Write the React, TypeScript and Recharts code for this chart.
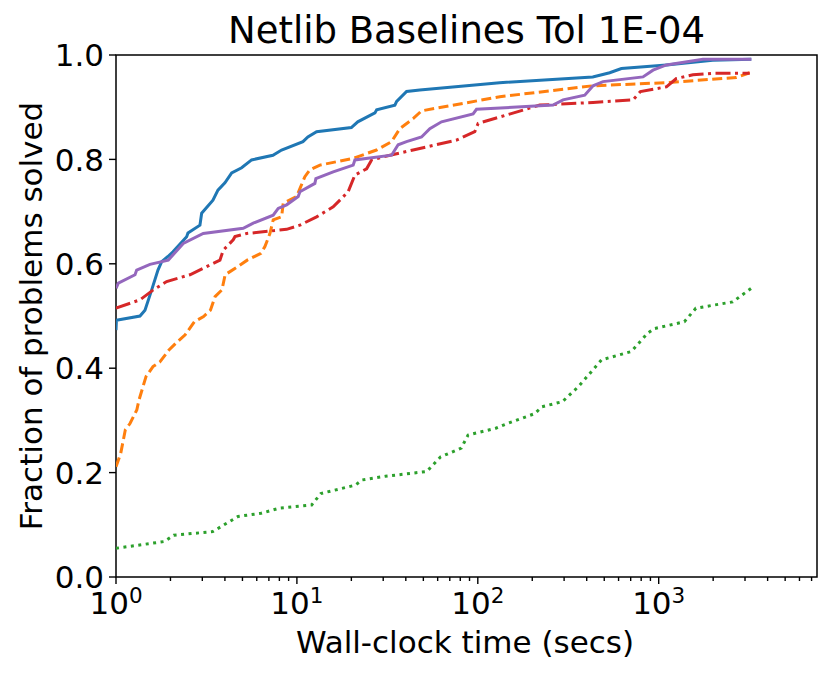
import React from "react";
import { LineChart, Line, XAxis, YAxis, ReferenceArea } from "recharts";

// ---- data ----
const blueX = [1, 1.005, 1.357, 1.446, 1.575, 1.706, 1.789, 1.937, 2.065, 2.458, 2.499, 2.911, 2.975, 3.435, 3.66, 4.0, 4.36, 4.95, 5.62, 7.37, 8.23, 10.8, 11.5, 12.85, 20.0, 21.7, 27.0, 27.6, 34.8, 35.6, 40.4, 47.8, 132, 432, 536, 622, 1104, 1987, 3251];
const blueY = [0.473, 0.492, 0.5, 0.511, 0.55, 0.588, 0.604, 0.614, 0.623, 0.652, 0.659, 0.674, 0.697, 0.722, 0.741, 0.755, 0.774, 0.784, 0.799, 0.808, 0.818, 0.834, 0.843, 0.853, 0.861, 0.872, 0.889, 0.895, 0.904, 0.911, 0.93, 0.933, 0.947, 0.958, 0.966, 0.974, 0.981, 0.99, 0.992];

const orangeX = [1, 1.062, 1.126, 1.195, 1.303, 1.34, 1.465, 1.601, 1.748, 1.963, 2.145, 2.412, 2.711, 3.048, 3.327, 3.528, 3.852, 4.012, 4.72, 5.313, 6.326, 6.656, 7.093, 7.396, 8.233, 8.402, 9.96, 10.39, 11.07, 11.8, 13.4, 20.47, 27.56, 33.37, 37.07, 43.9, 48.87, 132.3, 431.5, 1103, 2686, 3183];
const orangeY = [0.211, 0.237, 0.282, 0.294, 0.32, 0.339, 0.384, 0.403, 0.412, 0.435, 0.448, 0.464, 0.489, 0.499, 0.511, 0.537, 0.55, 0.579, 0.595, 0.607, 0.62, 0.633, 0.658, 0.684, 0.69, 0.716, 0.729, 0.744, 0.767, 0.78, 0.789, 0.802, 0.818, 0.834, 0.859, 0.878, 0.893, 0.92, 0.941, 0.947, 0.957, 0.966];

const greenX = [1, 1.853, 2.084, 3.426, 4.727, 6.334, 8.015, 12.07, 13.57, 21.05, 22.98, 30.83, 52.2, 62.2, 80.97, 88.4, 125.7, 145.5, 206.5, 225.7, 293.8, 360.6, 483.1, 706.3, 868.4, 948, 1387, 1605, 2564, 3243];
const greenY = [0.055, 0.068, 0.08, 0.087, 0.116, 0.122, 0.132, 0.138, 0.16, 0.176, 0.186, 0.193, 0.202, 0.23, 0.247, 0.272, 0.285, 0.294, 0.313, 0.326, 0.336, 0.365, 0.416, 0.432, 0.467, 0.476, 0.489, 0.515, 0.527, 0.553];

const redX = [1, 1.357, 1.607, 1.906, 2.563, 3.755, 3.915, 4.446, 4.545, 5.274, 8.772, 10.39, 12.85, 15.87, 19.2, 20.92, 24.28, 25.87, 32.65, 43.9, 76.27, 96.25, 100.4, 220, 433.6, 721, 792.4, 1103, 1253, 1547, 1995, 3183];
const redY = [0.515, 0.531, 0.55, 0.566, 0.579, 0.607, 0.626, 0.646, 0.652, 0.658, 0.666, 0.674, 0.69, 0.709, 0.738, 0.77, 0.782, 0.799, 0.808, 0.818, 0.837, 0.853, 0.869, 0.904, 0.909, 0.914, 0.93, 0.939, 0.955, 0.962, 0.965, 0.965];

const purpleX = [1, 1.03, 1.274, 1.301, 1.541, 1.945, 2.354, 3.036, 5.05, 5.737, 7.396, 7.883, 8.772, 10.17, 10.39, 12.57, 12.73, 15.87, 20.47, 20.92, 33.37, 36.28, 40.37, 48.87, 54.3, 63.03, 94.2, 98.35, 260.6, 296, 390.1, 433.6, 492.4, 819, 930, 1103, 1757, 3251];
const purpleY = [0.553, 0.563, 0.579, 0.588, 0.599, 0.607, 0.639, 0.658, 0.668, 0.678, 0.693, 0.706, 0.713, 0.729, 0.738, 0.754, 0.763, 0.776, 0.789, 0.799, 0.808, 0.828, 0.834, 0.843, 0.859, 0.872, 0.887, 0.896, 0.904, 0.914, 0.923, 0.941, 0.949, 0.958, 0.971, 0.981, 0.992, 0.992];

const xMajorTicks = [1, 10, 100, 1000];
const xMinorTicks = [2, 3, 4, 5, 6, 7, 8, 9, 20, 30, 40, 50, 60, 70, 80, 90, 200, 300, 400, 500, 600, 700, 800, 900, 2000, 3000, 4000, 5000, 6000, 7000];
const yTicks = [0, 0.2, 0.4, 0.6, 0.8, 1.0];
const xDomain = [1, 7500];

const titleText = "Netlib Baselines Tol 1E-04";
const xLabelText = "Wall-clock time (secs)";
const yLabelText = "Fraction of problems solved";

// ---- helpers ----
const toPoints = (xs: number[], ys: number[]) => xs.map((x, i) => ({ x, y: ys[i] }));
const allXTicks = [...xMajorTicks, ...xMinorTicks].sort((a, b) => a - b);

const FONT = "DejaVu Sans";
const W = 815;
const H = 659;

const XTick = (props: any) => {
  const { x, y, payload } = props;
  const v = payload.value;
  const major = xMajorTicks.includes(v);
  const exp = Math.round(Math.log10(v));
  return (
    <g>
      <line x1={x} y1={y} x2={x} y2={y + (major ? 7 : 4)} stroke="#000" strokeWidth={1.4} />
      {major && (
        <text x={x} y={y + 37} textAnchor="middle" fontSize={31} fontFamily={FONT} fill="#000">
          <tspan>10</tspan>
          <tspan dy={-11} fontSize={21.5}>{exp}</tspan>
        </text>
      )}
    </g>
  );
};

const YTick = (props: any) => {
  const { x, y, payload } = props;
  return (
    <g>
      <line x1={x - 7} y1={y} x2={x} y2={y} stroke="#000" strokeWidth={1.4} />
      <text x={x - 12} y={y} dy="0.36em" textAnchor="end" fontSize={31} fontFamily={FONT} fill="#000">
        {Number(payload.value).toFixed(1)}
      </text>
    </g>
  );
};

const series = [
  { name: "blue", xs: blueX, ys: blueY, color: "#1f77b4", dash: undefined },
  { name: "orange", xs: orangeX, ys: orangeY, color: "#ff7f0e", dash: "10 4.5" },
  { name: "green", xs: greenX, ys: greenY, color: "#2ca02c", dash: "3 4.5" },
  { name: "red", xs: redX, ys: redY, color: "#d62728", dash: "15 4.5 3 4.5" },
  { name: "purple", xs: purpleX, ys: purpleY, color: "#9467bd", dash: undefined },
];

export default function App() {
  return (
    <div style={{ position: "relative", width: W, height: H }}>
      <LineChart width={W} height={H} margin={{ top: 47, right: 6, bottom: 0, left: 0 }}>
        <XAxis
          dataKey="x"
          type="number"
          scale="log"
          domain={xDomain}
          allowDataOverflow
          ticks={allXTicks}
          interval={0}
          tick={XTick}
          tickLine={false}
          axisLine={false}
          tickSize={0}
          tickMargin={0}
          height={90}
        />
        <YAxis
          type="number"
          domain={[0, 1]}
          ticks={yTicks}
          interval={0}
          tick={YTick}
          tickLine={false}
          axisLine={false}
          tickSize={0}
          tickMargin={0}
          width={108}
        />
        {series.map((s) => (
          <Line
            key={s.name}
            data={toPoints(s.xs, s.ys)}
            dataKey="y"
            type="linear"
            stroke={s.color}
            strokeWidth={3}
            strokeDasharray={s.dash}
            dot={false}
            activeDot={false}
            isAnimationActive={false}
          />
        ))}
        <ReferenceArea
          x1={xDomain[0]}
          x2={xDomain[1]}
          y1={0}
          y2={1}
          fill="none"
          fillOpacity={0}
          stroke="#000"
          strokeWidth={1.5}
          ifOverflow="visible"
        />
      </LineChart>
      <svg
        width={W}
        height={H}
        style={{ position: "absolute", left: 0, top: 0, pointerEvents: "none" }}
      >
        <text x={458.5} y={35} textAnchor="middle" fontSize={37} fontFamily={FONT} fill="#000">
          {titleText}
        </text>
        <text x={457} y={645} textAnchor="middle" fontSize={31} fontFamily={FONT} fill="#000">
          {xLabelText}
        </text>
        <text
          x={34}
          y={308}
          textAnchor="middle"
          fontSize={31}
          fontFamily={FONT}
          fill="#000"
          transform="rotate(-90, 34, 308)"
        >
          {yLabelText}
        </text>
      </svg>
    </div>
  );
}
